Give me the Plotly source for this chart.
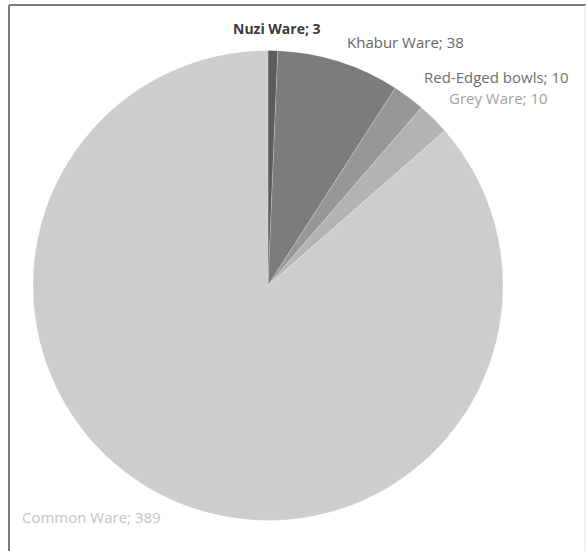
import plotly.graph_objects as go

W, H = 586, 551

categories = ["Nuzi Ware", "Khabur Ware", "Red-Edged bowls", "Grey Ware", "Common Ware"]
values = [3, 38, 10, 10, 389]
slice_colors = ["#5c5c5c", "#7c7c7c", "#979797", "#b3b3b3", "#cdcdcd"]
label_colors = ["#3a3a3a", "#666666", "#6e6e6e", "#a2a2a2", "#c4c4c4"]
label_pos = [(277, 28), (405, 42), (496, 77), (498, 98), (91, 517)]

fig = go.Figure(go.Pie(
    labels=categories,
    values=values,
    sort=False,
    direction="clockwise",
    rotation=0,
    marker=dict(colors=slice_colors, line=dict(color="rgba(255,255,255,0.35)", width=0.6)),
    textinfo="none",
    hoverinfo="label+value",
    showlegend=False,
    domain=dict(x=[33 / W, 503 / W], y=[1 - 521 / H, 1 - 50 / H]),
))

anns = []
for cat, val, col, (px, py) in zip(categories, values, label_colors, label_pos):
    txt = f"{cat}; {val}"
    anns.append(dict(
        x=px / W, y=1 - py / H, xref="paper", yref="paper",
        text=f"<b>{txt}</b>" if cat == "Nuzi Ware" else txt,
        showarrow=False, xanchor="center", yanchor="middle",
        font=dict(family="Open Sans, sans-serif", size=15 if cat != "Nuzi Ware" else 14, color=col),
    ))

shapes = [
    dict(type="line", xref="paper", yref="paper", x0=9 / W, x1=9 / W, y0=0, y1=1 - 5 / H,
         line=dict(color="#7a7a7a", width=2)),
    dict(type="line", xref="paper", yref="paper", x0=9 / W, x1=1, y0=1 - 5 / H, y1=1 - 5 / H,
         line=dict(color="#7a7a7a", width=2)),
    dict(type="line", xref="paper", yref="paper", x0=585 / W, x1=585 / W, y0=0, y1=1 - 5 / H,
         line=dict(color="#e6e6e6", width=1)),
]

fig.update_layout(
    width=W, height=H,
    margin=dict(l=0, r=0, t=0, b=0),
    paper_bgcolor="white", plot_bgcolor="white",
    annotations=anns, shapes=shapes,
)

fig.write_html("out.html", config={"displayModeBar": False},
               post_script="document.body.style.margin='0';")
